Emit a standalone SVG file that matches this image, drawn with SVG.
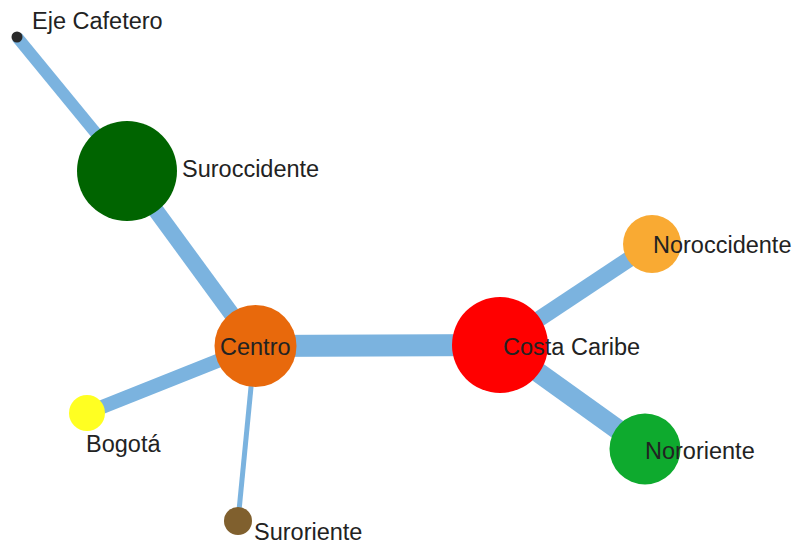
<svg xmlns="http://www.w3.org/2000/svg" width="792" height="546" viewBox="0 0 792 546">
<style>
.edge{stroke:#7bb3df;fill:none}
.lbl{font-family:"Liberation Sans",Arial,sans-serif;font-size:23.5px;fill:#222}
</style>
<rect width="792" height="546" fill="#fff"/>
<g id="connectors">
<line class="edge" x1="17" y1="37" x2="127" y2="171" stroke-width="12"/>
<line class="edge" x1="127" y1="171" x2="255" y2="346" stroke-width="16"/>
<line class="edge" x1="255" y1="346" x2="500" y2="345" stroke-width="22"/>
<line class="edge" x1="255" y1="346" x2="87" y2="413" stroke-width="14"/>
<line class="edge" x1="255" y1="346" x2="238" y2="521" stroke-width="5"/>
<line class="edge" x1="500" y1="345" x2="652" y2="244" stroke-width="16"/>
<line class="edge" x1="500" y1="345" x2="645" y2="449" stroke-width="20"/>
</g>
<g id="eje-cafetero"><circle cx="17" cy="37" r="5.5" fill="#2a2a2a"/><text class="lbl" x="32" y="29">Eje Cafetero</text></g>
<g id="suroccidente"><circle cx="127" cy="171" r="50" fill="#006400"/><text class="lbl" x="182" y="177">Suroccidente</text></g>
<g id="centro"><circle cx="255.5" cy="346" r="41" fill="#e8690c"/><text class="lbl" x="220" y="355">Centro</text></g>
<g id="costa-caribe"><circle cx="500" cy="345" r="48" fill="#ff0000"/><text class="lbl" x="503" y="355">Costa Caribe</text></g>
<g id="noroccidente"><circle cx="652" cy="244" r="29" fill="#f9aa33"/><text class="lbl" x="653" y="253">Noroccidente</text></g>
<g id="nororiente"><circle cx="645" cy="449" r="35.5" fill="#0eaa2e"/><text class="lbl" x="645" y="459">Nororiente</text></g>
<g id="bogota"><circle cx="87" cy="413" r="18" fill="#ffff22"/><text class="lbl" x="86" y="452">Bogotá</text></g>
<g id="suroriente"><circle cx="238" cy="521" r="14" fill="#80602e"/><text class="lbl" x="254" y="540">Suroriente</text></g>
</svg>
